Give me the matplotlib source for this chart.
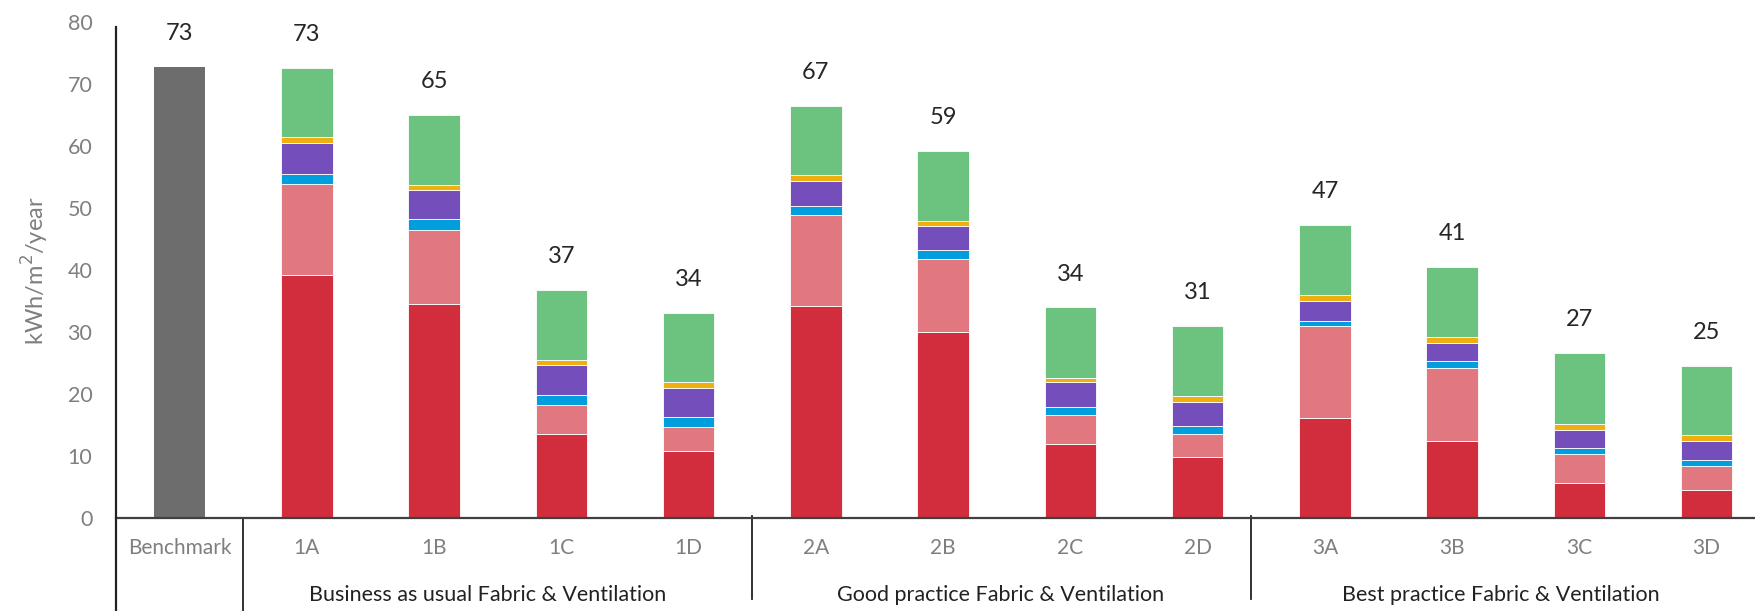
# Stacked energy use per scenario vs benchmark

import matplotlib.pyplot as plt

plt.rcParams['font.family'] = ['Lato', 'DejaVu Sans']

categories = ['Benchmark', '1A', '1B', '1C', '1D', '2A', '2B', '2C', '2D',
              '3A', '3B', '3C', '3D']
groups = ['Business as usual Fabric & Ventilation',
          'Good practice Fabric & Ventilation',
          'Best practice Fabric & Ventilation']

benchmark = 72.8

# scenario segments, bottom to top (1A .. 3D)
seg_red    = [39.2, 34.6, 13.6, 10.9, 34.2, 30.1, 12.0, 9.8, 16.1, 12.4, 5.7, 4.6]
seg_pink   = [14.7, 11.9, 4.7, 3.8, 14.8, 11.8, 4.6, 3.8, 14.9, 11.9, 4.6, 3.8]
seg_blue   = [1.7, 1.7, 1.6, 1.7, 1.3, 1.4, 1.4, 1.3, 0.9, 1.0, 1.0, 1.0]
seg_purple = [5.0, 4.7, 4.8, 4.6, 4.1, 3.8, 3.9, 3.9, 3.2, 3.0, 3.0, 3.1]
seg_yellow = [0.9, 0.9, 0.8, 0.9, 0.9, 0.9, 0.8, 0.9, 0.9, 0.9, 0.9, 0.9]
seg_green  = [11.1, 11.2, 11.3, 11.2, 11.2, 11.3, 11.3, 11.3, 11.3, 11.3, 11.4, 11.2]

total_labels = [73, 73, 65, 37, 34, 67, 59, 34, 31, 47, 41, 27, 25]

colors = ['#D22D3D', '#E17880', '#009EDC', '#744EBA', '#EFB00F', '#6BC37F']
segments = [seg_red, seg_pink, seg_blue, seg_purple, seg_yellow, seg_green]

fig = plt.figure(figsize=(17.55, 6.11), dpi=100)
ax = fig.add_axes([116 / 1755, 0.1519, 1 - 116 / 1755, 0.8114])

width = 0.405
ax.bar(0, benchmark, width, color='#6D6D6D', zorder=2)

xs = list(range(1, len(categories)))
bottom = [0.0] * len(xs)
for vals, col in zip(segments, colors):
    ax.bar(xs, vals, width, bottom=bottom, color=col,
           edgecolor='#ffffff', linewidth=0.6, zorder=2)
    bottom = [b + v for b, v in zip(bottom, vals)]

totals = [benchmark] + bottom
for i, (t, lab) in enumerate(zip(totals, total_labels)):
    ax.text(i, t + 5.4, str(lab), ha='center', va='center',
            fontsize=17, color='#262626')

ax.set_xlim(-0.5, -0.5 + (1755 - 116) / 127.25)
ax.set_ylim(0, 80)
ax.set_yticks(range(0, 81, 10))
ax.tick_params(axis='y', length=0, pad=17, labelsize=15.5, labelcolor='#7F7F7F')
ax.set_xticks([])
for s in ax.spines.values():
    s.set_visible(False)

ax.set_ylabel('kWh/m$^2$/year', fontsize=17, color='#7F7F7F', labelpad=12)

# axis lines
tr = ax.get_xaxis_transform()
ax.plot([-0.5, 13], [0, 0], transform=tr, color='#404040', lw=1.6,
        clip_on=False, zorder=3)
ax.plot([-0.5, -0.5], [0.99, -0.19], transform=tr, color='#222222', lw=1.6,
        clip_on=False, zorder=3)
ax.plot([0.5, 0.5], [0, -0.19], transform=tr, color='#222222', lw=1.3,
        clip_on=False)
for xsep in [4.5, 8.42]:
    ax.plot([xsep, xsep], [0.004, -0.163], transform=tr, color='#222222',
            lw=1.3, clip_on=False)

# category and group labels
for i, c in enumerate(categories):
    ax.text(i, -0.061, c, transform=tr, ha='center', va='center',
            fontsize=15, color='#7F7F7F')
for g, xm in zip(groups, [2.42, 6.45, 10.38]):
    ax.text(xm, -0.155, g, transform=tr, ha='center', va='center',
            fontsize=15.5, color='#222222')

plt.savefig('out.png', dpi=100)
plt.close(fig)
